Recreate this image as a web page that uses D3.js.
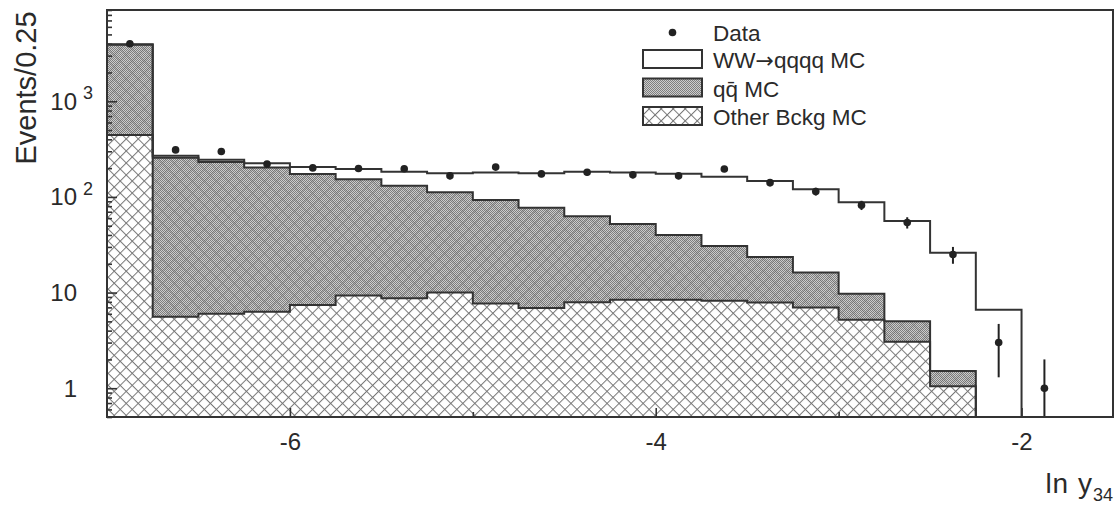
<!DOCTYPE html>
<html>
<head>
<meta charset="utf-8">
<script src="https://cdn.jsdelivr.net/npm/d3@7"></script>
<style>
  body { margin: 0; background: #fff; }
  text { font-family: "Liberation Sans", Arial, Helvetica, sans-serif; fill: #2a2a2a; }
</style>
</head>
<body>
<svg id="chart" width="1117" height="505"></svg>
<script>
// bin edges of ln y34, width 0.25
var binEdges = [-7.0, -6.75, -6.5, -6.25, -6.0, -5.75, -5.5, -5.25, -5.0, -4.75, -4.5,
  -4.25, -4.0, -3.75, -3.5, -3.25, -3.0, -2.75, -2.5, -2.25, -2.0, -1.75, -1.5];

// MC components per bin (stacked: other, then qq, then WW on top)
var otherMC = [445, 5.6, 6.0, 6.3, 7.4, 9.3, 8.7, 10, 7.7, 6.9, 7.9, 8.4, 8.4, 8.2, 7.85, 7.0, 5.2, 3.06, 1.05, 0, 0, 0];
var qqMC = [3455, 251, 226, 197, 166, 144, 122, 102, 85, 70, 55, 43.6, 31.6, 22.5, 15.7, 9.2, 4.5, 1.94, 0.46, 0, 0, 0];
var wwMC = [50, 13, 12, 22, 32, 42, 53, 65, 87, 100, 120, 128, 135, 132, 123.5, 104, 78, 51, 24.5, 6.6, 0, 0];

// data points and their errors
var dataCounts = [4000, 310, 298, 221, 201, 198, 197, 166, 205, 174, 181, 170, 166, 196, 141, 114, 82, 54, 25, 3, 1, 0];
var dataErr = [63, 17.6, 17.3, 14.9, 14.2, 14.1, 14, 12.9, 14.3, 13.2, 13.5, 13, 12.9, 14, 11.9, 10.7, 9.1, 7.3, 5, 1.7, 1, 0];

var xTicksMajor = [-6, -4, -2];
var xTicksMinor = [-5, -3];
var yTicksMajor = [1, 10, 100, 1000];
var yTickBase = ["1", "10", "10", "10"];
var yTickExp = ["", "", "2", "3"];

var legendLabels = ["Data", "WW|qqqq MC", "qq\u0304 MC", "Other Bckg MC"];

var L = 107, R = 1113, T = 10, B = 417;
var svg = d3.select("#chart");
var ink = "#333";

var x = d3.scaleLinear().domain([-7, -1.5]).range([L, R]);
var y = d3.scaleLog().domain([0.5, 9000]).range([B, T]);
function yv(v) { return y(Math.max(v, 0.5)); }

// patterns
var defs = svg.append("defs");
var hp = defs.append("pattern").attr("id", "hatch").attr("patternUnits", "userSpaceOnUse")
  .attr("width", 8.5).attr("height", 8.5).attr("patternTransform", "rotate(45)");
hp.append("rect").attr("width", 8.5).attr("height", 8.5).attr("fill", "#fff");
hp.append("rect").attr("width", 8.5).attr("height", 1).attr("fill", "#777");
hp.append("rect").attr("width", 1).attr("height", 8.5).attr("fill", "#777");

var hl = defs.append("pattern").attr("id", "hatchLines").attr("patternUnits", "userSpaceOnUse")
  .attr("width", 8.5).attr("height", 8.5).attr("patternTransform", "rotate(45)");
hl.append("rect").attr("width", 8.5).attr("height", 1).attr("fill", "#555");
hl.append("rect").attr("width", 1).attr("height", 8.5).attr("fill", "#555");

var qp = defs.append("pattern").attr("id", "dense").attr("patternUnits", "userSpaceOnUse")
  .attr("width", 2).attr("height", 2);
qp.append("rect").attr("width", 2).attr("height", 2).attr("fill", "#cdcdcd");
qp.append("rect").attr("width", 1).attr("height", 1).attr("fill", "#7e7e7e");
qp.append("rect").attr("x", 1).attr("y", 1).attr("width", 1).attr("height", 1).attr("fill", "#7e7e7e");

defs.append("clipPath").attr("id", "plotClip").append("rect")
  .attr("x", L).attr("y", T).attr("width", R - L).attr("height", B - T);

// stacked levels
var n = otherMC.length;
var lvlOther = otherMC.slice();
var lvlQQ = otherMC.map(function(v, i) { return v + qqMC[i]; });
var lvlTotal = lvlQQ.map(function(v, i) { return v + wwMC[i]; });

function edgePoints(lo, hi) {
  return binEdges.map(function(e, i) {
    var k = Math.min(i, n - 1);
    return { x: e, lo: lo ? lo[k] : 0, hi: hi[k] };
  });
}

var area = d3.area()
  .x(function(d) { return x(d.x); })
  .y0(function(d) { return yv(d.lo); })
  .y1(function(d) { return yv(d.hi); })
  .curve(d3.curveStepAfter);
var line = d3.line()
  .x(function(d) { return x(d.x); })
  .y(function(d) { return yv(d.hi); })
  .curve(d3.curveStepAfter);

var plot = svg.append("g").attr("clip-path", "url(#plotClip)");

plot.append("path").datum(edgePoints(null, lvlOther)).attr("d", area).attr("fill", "url(#hatch)");
plot.append("path").datum(edgePoints(lvlOther, lvlQQ)).attr("d", area).attr("fill", "url(#dense)");
plot.append("path").datum(edgePoints(lvlOther, lvlQQ)).attr("d", area).attr("fill", "url(#hatchLines)").attr("opacity", 0.3);

[lvlOther, lvlQQ, lvlTotal].forEach(function(lv) {
  plot.append("path").datum(edgePoints(null, lv)).attr("d", line)
    .attr("fill", "none").attr("stroke", ink).attr("stroke-width", 2);
});

// data with error bars
var pts = dataCounts.map(function(c, i) {
  return { cx: (binEdges[i] + binEdges[i + 1]) / 2, c: c, e: dataErr[i] };
}).filter(function(d) { return d.c > 0; });

plot.selectAll(".err").data(pts).enter().append("line")
  .attr("x1", function(d) { return x(d.cx); }).attr("x2", function(d) { return x(d.cx); })
  .attr("y1", function(d) { return y(d.c + d.e); })
  .attr("y2", function(d) { return yv(d.c - d.e); })
  .attr("stroke", "#222").attr("stroke-width", 2);
plot.selectAll(".dot").data(pts).enter().append("circle")
  .attr("cx", function(d) { return x(d.cx); }).attr("cy", function(d) { return y(d.c); })
  .attr("r", 3.8).attr("fill", "#222");

// frame
svg.append("rect").attr("x", L).attr("y", T).attr("width", R - L).attr("height", B - T)
  .attr("fill", "none").attr("stroke", ink).attr("stroke-width", 2);

// axes
function styleAxis(g) {
  g.select(".domain").remove();
  g.selectAll(".tick line").attr("stroke", ink).attr("stroke-width", 1.6);
  g.selectAll(".tick text").attr("font-family", null).attr("font-size", null)
    .style("font-size", "24px").attr("fill", "#2a2a2a");
}
svg.append("g").attr("transform", "translate(0," + B + ")")
  .call(d3.axisBottom(x).tickValues(xTicksMajor).tickSize(-9).tickPadding(16)
    .tickFormat(function(d) { return String(d); }))
  .call(styleAxis);
svg.append("g").attr("transform", "translate(0," + B + ")")
  .call(d3.axisBottom(x).tickValues(xTicksMinor).tickSize(-5).tickFormat(""))
  .call(styleAxis);

var minorY = y.ticks().filter(function(v) { return yTicksMajor.indexOf(v) < 0; });
svg.append("g").attr("transform", "translate(" + L + ",0)")
  .call(d3.axisLeft(y).tickValues(yTicksMajor).tickSize(-10).tickFormat(""))
  .call(styleAxis);
svg.append("g").attr("transform", "translate(" + L + ",0)")
  .call(d3.axisLeft(y).tickValues(minorY).tickSize(-5).tickFormat(""))
  .call(styleAxis);

// y tick labels with exponents
yTicksMajor.forEach(function(v, i) {
  svg.append("text").attr("x", 77).attr("y", y(v) + 8.5)
    .attr("text-anchor", "end").style("font-size", "24px").text(yTickBase[i]);
  if (yTickExp[i]) {
    svg.append("text").attr("x", 83).attr("y", y(v) - 2)
      .style("font-size", "18px").text(yTickExp[i]);
  }
});

// axis titles
svg.append("text").attr("transform", "translate(36,88) rotate(-90)")
  .attr("text-anchor", "middle").style("font-size", "29px").text("Events/0.25");
var xt = svg.append("text").attr("x", R).attr("y", 493).attr("text-anchor", "end")
  .style("font-size", "28px");
xt.append("tspan").attr("letter-spacing", "1px").text("ln y");
xt.append("tspan").attr("dy", 8).style("font-size", "18px").text("34");

// legend
var lx = 643, lw = 59, lh = 18, tx = 713;
var rowBase = [40.5, 68, 96.5, 125];
svg.append("circle").attr("cx", lx + lw / 2).attr("cy", rowBase[0] - 8).attr("r", 3.8).attr("fill", "#222");
var fills = [null, "#fff", "url(#dense)", "url(#hatch)"];
for (var i = 1; i < 4; i++) {
  svg.append("rect").attr("x", lx).attr("y", rowBase[i] - lh).attr("width", lw).attr("height", lh)
    .attr("fill", fills[i]).attr("stroke", ink).attr("stroke-width", 2);
}
legendLabels.forEach(function(t, i) {
  var el = svg.append("text").attr("x", tx).attr("y", rowBase[i]).style("font-size", "22.5px");
  var parts = t.split("|");
  el.append("tspan").text(parts[0]);
  if (parts.length > 1) {
    // long thin arrow as in the original
    el.append("tspan").style("font-family", "'DejaVu Sans', sans-serif").style("font-size", "22px")
      .text("\u2192");
    el.append("tspan").text(parts[1]);
  }
});
</script>
</body>
</html>
